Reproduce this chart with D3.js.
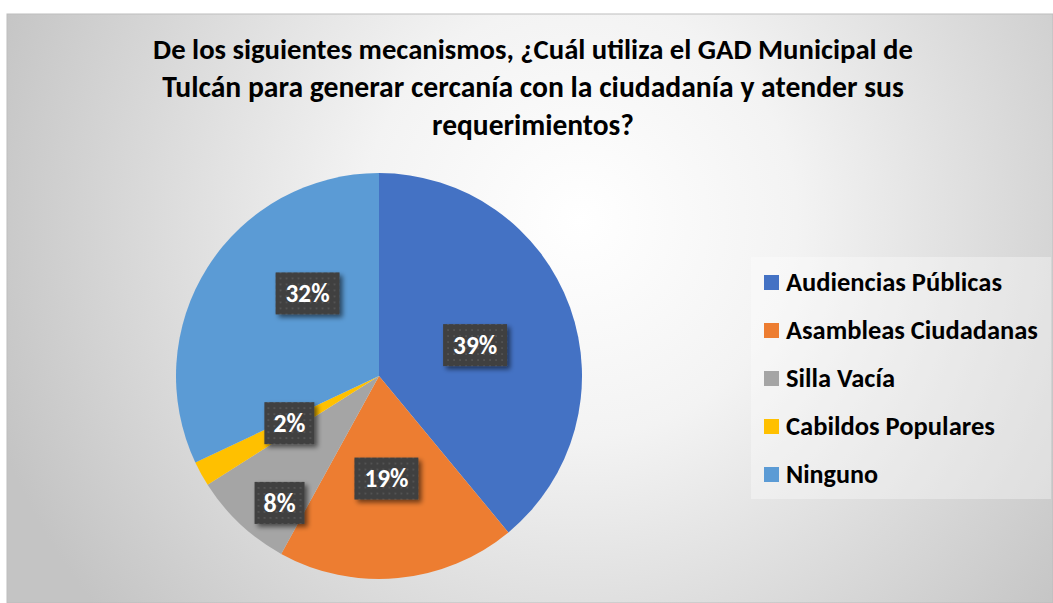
<!DOCTYPE html>
<html><head><meta charset="utf-8">
<script src="https://cdn.jsdelivr.net/npm/d3@7"></script>
<style>html,body{margin:0;padding:0;background:#fff;}svg{display:block;}</style>
</head><body>
<svg id="chart" width="1053" height="603"></svg>
<script>
const titleLines = ["De los siguientes mecanismos, ¿Cuál utiliza el GAD Municipal de",
  "Tulcán para generar cercanía con la ciudadanía y atender sus",
  "requerimientos?"];
const categories = ["Audiencias Públicas","Asambleas Ciudadanas","Silla Vacía","Cabildos Populares","Ninguno"];
const values = [39,19,8,2,32];
const valueLabels = ["39%","19%","8%","2%","32%"];
const colors = ["#4472C4","#ED7D31","#A5A5A5","#FFC000","#5B9BD5"];
// label nudges (layout only)
const labelNudge = [[2,3],[-2,3],[-31,54],[-2,-1],[13,-29]];

const FONT = "Carlito, 'Liberation Sans', Arial, sans-serif";
const svg = d3.select("#chart");
const defs = svg.append("defs");

const rg = defs.append("radialGradient").attr("id","bg").attr("gradientUnits","userSpaceOnUse")
  .attr("cx",580).attr("cy",220).attr("r",620);
rg.append("stop").attr("offset","0").attr("stop-color","#ffffff");
rg.append("stop").attr("offset","0.35").attr("stop-color","#f3f3f3");
rg.append("stop").attr("offset","1").attr("stop-color","#c4c4c4");

const pat = defs.append("pattern").attr("id","dots").attr("patternUnits","userSpaceOnUse")
  .attr("width",6).attr("height",6);
pat.append("rect").attr("width",6).attr("height",6).attr("fill","#3f3f3f");
pat.append("rect").attr("x",2).attr("y",2).attr("width",2).attr("height",2).attr("fill","#525252");

const sh = defs.append("filter").attr("id","shadow").attr("x","-30%").attr("y","-30%").attr("width","170%").attr("height","170%");
sh.append("feGaussianBlur").attr("in","SourceAlpha").attr("stdDeviation",2.5);
sh.append("feOffset").attr("dx",3).attr("dy",3).attr("result","ob");
sh.append("feComponentTransfer").append("feFuncA").attr("type","linear").attr("slope",0.55);
const mg = sh.append("feMerge"); mg.append("feMergeNode"); mg.append("feMergeNode").attr("in","SourceGraphic");

// chart background
svg.append("rect").attr("x",7).attr("y",14).attr("width",1046).attr("height",589)
  .attr("fill","url(#bg)").attr("stroke","#bdbdbd").attr("stroke-width",1);

// title
function fitText(sel, target){
  const w = sel.node().getComputedTextLength();
  const fs = parseFloat(sel.attr("font-size"));
  sel.attr("font-size", fs*target/w);
}
const titleTargets = [760, 742, 202];
const titleY = [59, 97, 135];
titleLines.forEach((t,i)=>{
  const tx = svg.append("text").attr("x",533).attr("y",titleY[i]).attr("text-anchor","middle")
    .attr("font-family",FONT).attr("font-weight","bold").attr("font-size",22).attr("fill","#000").text(t);
  fitText(tx, titleTargets[i]);
});

// pie
const cx = 379, cy = 376, R = 203;
const pie = d3.pie().sort(null).value(d=>d);
const arcs = pie(values);
const arc = d3.arc().innerRadius(0).outerRadius(R);
const labelArc = d3.arc().innerRadius(100).outerRadius(100);
const g = svg.append("g").attr("transform",`translate(${cx},${cy})`);
g.selectAll("path").data(arcs).join("path").attr("d",arc).attr("fill",(d,i)=>colors[i]);

// labels
const lw = [64,64,50,50,64], lh = 42;
arcs.forEach((d,i)=>{
  const c = labelArc.centroid(d);
  const x = c[0]+labelNudge[i][0], y = c[1]+labelNudge[i][1];
  const lg = g.append("g").attr("transform",`translate(${x},${y})`);
  lg.append("rect").attr("x",-lw[i]/2).attr("y",-lh/2).attr("width",lw[i]).attr("height",lh)
    .attr("fill","url(#dots)").attr("filter","url(#shadow)");
  const t = lg.append("text").attr("text-anchor","middle").attr("dy","0.35em")
    .attr("font-family",FONT).attr("font-weight","bold").attr("font-size",22).attr("fill","#fff").text(valueLabels[i]);
  fitText(t, valueLabels[i].length===3 ? 44 : 32);
});

// legend
svg.append("rect").attr("x",751).attr("y",257).attr("width",300).attr("height",242)
  .attr("fill","#ffffff").attr("fill-opacity",0.35);
const legY = d3.scalePoint().domain(categories).range([282,474]);
const legTargets = [216, 252, 109, 209, 92];
categories.forEach((c,i)=>{
  svg.append("rect").attr("x",764).attr("y",legY(c)-7).attr("width",15).attr("height",15).attr("fill",colors[i]);
  const t = svg.append("text").attr("x",786).attr("y",legY(c)).attr("dy","0.35em")
    .attr("font-family",FONT).attr("font-weight","bold").attr("font-size",20).attr("fill","#000").text(c);
  fitText(t, legTargets[i]);
});
</script>
</body></html>
